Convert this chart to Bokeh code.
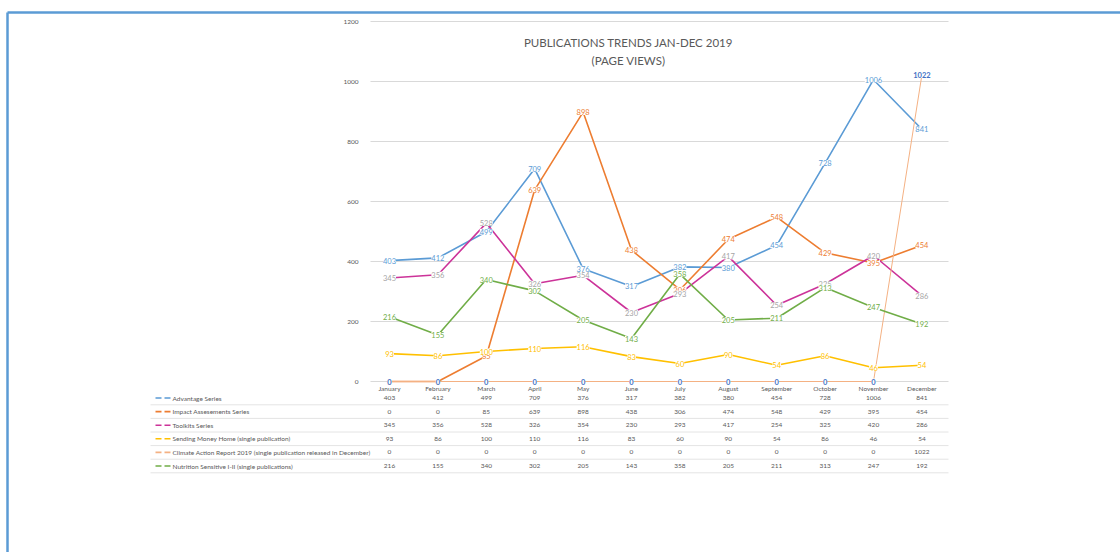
from bokeh.plotting import figure
from bokeh.models import Range1d, ColumnDataSource, LabelSet
from bokeh.core.properties import value
from bokeh.embed import file_html
from bokeh.resources import INLINE

# ---------------- data ----------------
months = ["January", "February", "March", "April", "May", "June", "July",
          "August", "September", "October", "November", "December"]
advantage = [403, 412, 499, 709, 376, 317, 382, 380, 454, 728, 1006, 841]
impact = [0, 0, 85, 639, 898, 438, 306, 474, 548, 429, 395, 454]
toolkits = [345, 356, 528, 326, 354, 230, 293, 417, 254, 325, 420, 286]
sending_money = [93, 86, 100, 110, 116, 83, 60, 90, 54, 86, 46, 54]
climate_action = [0, 0, 0, 0, 0, 0, 0, 0, 0, 0, 0, 1022]
nutrition = [216, 155, 340, 302, 205, 143, 358, 205, 211, 313, 247, 192]
series_names = ["Advantage Series", "Impact Assesements Series", "Toolkits Series",
                "Sending Money Home (single publication)",
                "Climate Action Report 2019 (single publication released in December)",
                "Nutrition Sensitive I-II (single publications)"]
y_ticks = [0, 200, 400, 600, 800, 1000, 1200]
title_lines = ["PUBLICATIONS TRENDS JAN-DEC 2019", "(PAGE VIEWS)"]

series_values = [advantage, impact, toolkits, sending_money, climate_action, nutrition]
line_colors = ["#5B9BD5", "#ED7D31", "#CC3399", "#FFC000", "#F4B183", "#70AD47"]
label_colors = ["#5B9BD5", "#ED7D31", "#A5A5A5", "#FFC000", "#4472C4", "#70AD47"]
line_widths = [1.6, 1.6, 1.6, 1.6, 1.0, 1.6]

# ---------------- layout helpers (pixel -> data) ----------------
W, H = 1120, 552
X0_PX, XSTEP_PX = 389.0, 48.4
Y0_PX, PX_PER_UNIT = 381.0, 60.0 / 200.0


def xd(px):
    return (px - X0_PX) / XSTEP_PX


def yd(py):
    return (Y0_PX - py) / PX_PER_UNIT


FONT_NAME = "Lato"
FONT = value(FONT_NAME)
GRAY = "#595959"

p = figure(width=W, height=H, x_range=Range1d(xd(0), xd(W)), y_range=Range1d(yd(H), yd(0)),
           output_backend="svg", toolbar_location=None, min_border=0,
           x_axis_location=None, y_axis_location=None)
p.grid.visible = False
p.outline_line_color = None
p.background_fill_color = "white"

# page frame (blue border, top and left)
p.segment(x0=[xd(7), xd(7)], y0=[yd(12), yd(12)], x1=[xd(W + 10), xd(7)], y1=[yd(12), yd(H + 10)],
          line_color="#5B9BD5", line_width=2.5)

# gridlines
n = len(y_ticks)
p.segment(x0=[xd(370)] * n, x1=[xd(948)] * n, y0=y_ticks, y1=y_ticks,
          line_color="#D9D9D9", line_width=1)

# y tick labels
p.text(x=[xd(358)] * n, y=y_ticks, text=[str(t) for t in y_ticks], text_align="right",
       text_baseline="middle", text_font=FONT, text_font_size="6.5px", text_color=GRAY)

# title
p.text(x=[xd(628), xd(628)], y=[yd(42), yd(60)], text=title_lines, text_align="center",
       text_baseline="middle", text_font=FONT, text_font_size="11.5px", text_color=GRAY)

# series lines
xs = list(range(len(months)))
for vals, col, lw in zip(series_values, line_colors, line_widths):
    p.line(x=xs, y=vals, line_color=col, line_width=lw)

# data labels
for i, (vals, col) in enumerate(zip(series_values, label_colors)):
    src = ColumnDataSource(dict(x=xs, y=vals, t=[str(v) for v in vals]))
    lab = LabelSet(x="x", y="y", text="t", source=src, text_align="center",
                   text_baseline="middle", text_color=col, text_font_size="7.5px",
                   text_font=FONT,
                   text_font_style="bold" if i == 4 else "normal",
                   background_fill_color="white")
    p.add_layout(lab)

# data table: month row
p.text(x=xs, y=[yd(388)] * len(xs), text=months, text_align="center", text_baseline="middle",
       text_font=FONT, text_font_size="6.5px", text_color=GRAY)

ROW0, ROWSTEP = 397.5, 13.6
for r, (name, vals, col) in enumerate(zip(series_names, series_values, line_colors)):
    ypx = ROW0 + r * ROWSTEP
    p.text(x=xs, y=[yd(ypx)] * len(xs), text=[str(v) for v in vals], text_align="center",
           text_baseline="middle", text_font=FONT, text_font_size="6.5px", text_color=GRAY)
    p.text(x=[xd(172)], y=[yd(ypx)], text=[name], text_align="left", text_baseline="middle",
           text_font=FONT, text_font_size="6.5px", text_color=GRAY)
    p.segment(x0=[xd(155)], x1=[xd(171)], y0=[yd(ypx)], y1=[yd(ypx)], line_color=col,
              line_width=1.6, line_dash="6 3")
    p.segment(x0=[xd(150)], x1=[xd(948)], y0=[yd(ypx + ROWSTEP / 2)], y1=[yd(ypx + ROWSTEP / 2)],
              line_color="#E4E4E4", line_width=1)

open("out.html", "w").write(file_html(p, INLINE))
